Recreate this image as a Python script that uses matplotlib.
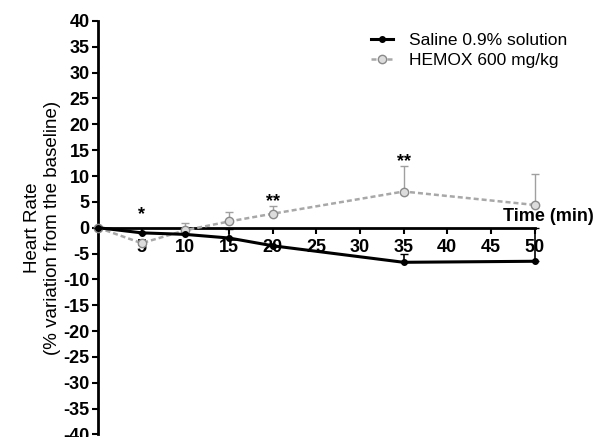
import matplotlib.pyplot as plt
import numpy as np

plt.rcParams['font.family'] = ['Liberation Sans', 'DejaVu Sans']
plt.rcParams['axes.unicode_minus'] = False

# data
time = [0, 5, 10, 15, 20, 35, 50]
saline = [0, -1.0, -1.3, -2.0, -3.5, -6.7, -6.5]
saline_err = [0, 0, 0, 1.7, 0, 1.6, 6.5]
hemox = [0, -3.0, -0.5, 1.2, 2.7, 7.0, 4.4]
hemox_err = [0, 0, 1.5, 1.8, 1.4, 5.0, 6.0]
# significance marks: (time, height, label)
sig_x = [5, 20, 35]
sig_y = [2.5, 5.0, 12.8]
sig_txt = ['*', '**', '**']

fig = plt.figure(figsize=(5.94, 4.37), dpi=100)
ax = fig.add_axes([0.165, 0.006, 0.735, 0.946])

# HEMOX (grey dotted)
ax.errorbar(time, hemox, yerr=[np.zeros(len(hemox_err)), hemox_err],
            fmt='none', ecolor='#a0a0a0', elinewidth=1, capsize=3,
            linestyle=':', clip_on=False, zorder=2)
ax.plot(time, hemox, color='#a8a8a8', linestyle=(0, (2, 1.2)), linewidth=1.8,
        marker='o', markersize=6, markerfacecolor='#dcdcdc',
        markeredgecolor='#8a8a8a', label='HEMOX 600 mg/kg', clip_on=False, zorder=3)

# Saline (black)
ax.errorbar(time, saline, yerr=[np.zeros(len(saline_err)), saline_err],
            fmt='none', ecolor='black', elinewidth=1.2, capsize=3,
            clip_on=False, zorder=4)
ax.plot(time, saline, color='black', linewidth=2.2, marker='o', markersize=4,
        label='Saline 0.9% solution', clip_on=False, zorder=5)

for x, y, t in zip(sig_x, sig_y, sig_txt):
    ax.text(x, y, t, ha='center', va='center', fontsize=13, fontweight='bold')

ax.set_xlim(0, 50)
ax.set_ylim(-40, 40)
ax.set_xticks(range(5, 55, 5))
ax.set_yticks(range(-40, 45, 5))

ax.spines['top'].set_visible(False)
ax.spines['right'].set_visible(False)
ax.spines['bottom'].set_position(('data', 0))
ax.spines['left'].set_linewidth(2)
ax.spines['bottom'].set_linewidth(2)
ax.tick_params(axis='both', width=1.5, length=4, labelsize=13)
ax.tick_params(axis='x', pad=4)
ax.tick_params(axis='y', pad=2)
for lab in ax.get_xticklabels() + ax.get_yticklabels():
    lab.set_fontweight('bold')

ax.text(56.8, 0.6, 'Time (min)', ha='right', va='bottom',
        fontsize=13, fontweight='bold', clip_on=False)
ax.set_ylabel('Heart Rate\n(% variation from the baseline)', fontsize=13.5,
              labelpad=2)

h, l = ax.get_legend_handles_labels()
ax.legend(h[::-1], l[::-1], loc='upper right', bbox_to_anchor=(1.11, 1.01),
          frameon=False, fontsize=12.5, handlelength=1.3, handletextpad=0.9,
          labelspacing=0.3)

fig.savefig('out.png', dpi=100)
